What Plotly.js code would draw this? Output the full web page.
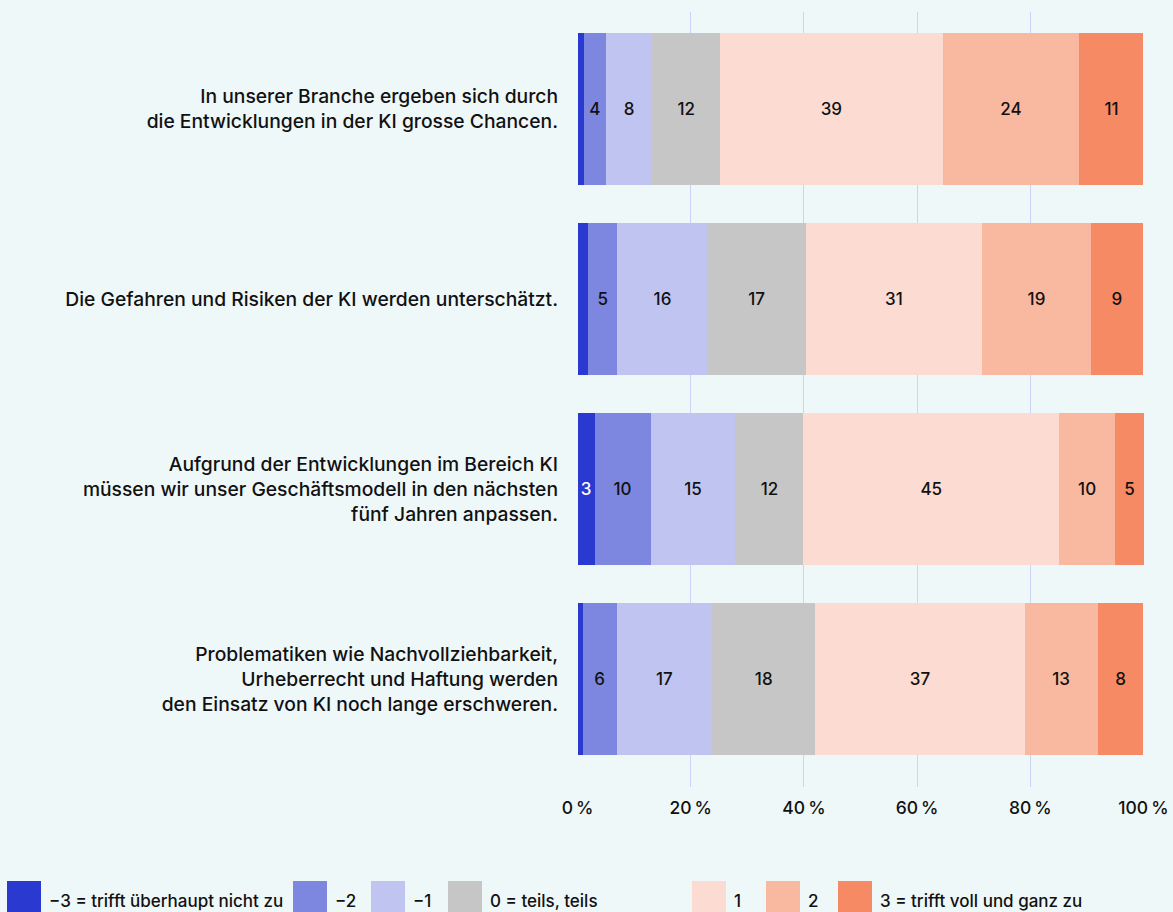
<!DOCTYPE html>
<html>
<head>
<meta charset="utf-8">
<script src="https://cdn.plot.ly/plotly-3.0.1.min.js"></script>
<style>
html,body{margin:0;padding:0;background:#eff8f9;}
#chart{width:1173px;height:912px;}
</style>
</head>
<body>
<div id="chart"></div>
<script>
// ---- data ----
const categories = [
  "In unserer Branche ergeben sich durch<br>die Entwicklungen in der KI grosse Chancen.",
  "Die Gefahren und Risiken der KI werden unterschätzt.",
  "Aufgrund der Entwicklungen im Bereich KI<br>müssen wir unser Geschäftsmodell in den nächsten<br>fünf Jahren anpassen.",
  "Problematiken wie Nachvollziehbarkeit,<br>Urheberrecht und Haftung werden<br>den Einsatz von KI noch lange erschweren."
];
const seriesNames = ["−3 = trifft überhaupt nicht zu", "−2", "−1", "0 = teils, teils", "1", "2", "3 = trifft voll und ganz zu"];
const valMinus3 = [1.1, 1.9, 3.0, 0.9];
const valMinus2 = [3.9, 5.1, 9.9, 6.0];
const valMinus1 = [8.2, 16.0, 15.0, 16.9];
const valZero   = [12.0, 17.3, 12.0, 18.2];
const valPlus1  = [39.3, 31.2, 45.2, 37.0];
const valPlus2  = [24.2, 19.2, 9.9, 12.9];
const valPlus3  = [11.3, 9.2, 5.1, 8.1];
const lblMinus3 = ["", "", "3", ""];
const lblMinus2 = ["4", "5", "10", "6"];
const lblMinus1 = ["8", "16", "15", "17"];
const lblZero   = ["12", "17", "12", "18"];
const lblPlus1  = ["39", "31", "45", "37"];
const lblPlus2  = ["24", "19", "10", "13"];
const lblPlus3  = ["11", "9", "5", "8"];
const xTicks = [0, 20, 40, 60, 80, 100];

// ---- styles ----
const colors = ["#2a3ad0", "#7d87e0", "#c0c4f0", "#c6c6c6", "#fcdcd2", "#f9b8a0", "#f68a64"];
const textColors = ["#ffffff", "#111111", "#111111", "#111111", "#111111", "#111111", "#111111"];
const FONT = "Inter, 'Noto Sans', sans-serif";

const values = [valMinus3, valMinus2, valMinus1, valZero, valPlus1, valPlus2, valPlus3];
const labels = [lblMinus3, lblMinus2, lblMinus1, lblZero, lblPlus1, lblPlus2, lblPlus3];

const traces = seriesNames.map((name, i) => ({
  type: "bar",
  orientation: "h",
  name: name,
  y: categories,
  x: values[i],
  text: labels[i],
  textposition: "inside",
  insidetextanchor: "middle",
  textangle: 0,
  constraintext: "none",
  textfont: {family: FONT, size: 17, color: textColors[i], weight: 500},
  marker: {color: colors[i], line: {width: 0}},
  width: 0.8,
  hoverinfo: "skip",
  showlegend: false
}));

// ---- layout geometry (pixels) ----
const W = 1173, H = 912;
const plotL = 577, plotR = 1144, plotT = 12, plotB = 787;
const px2x = px => (px - plotL) / (plotR - plotL);
const py2y = py => (plotB - py) / (plotB - plotT);

const legendX = [7, 293, 371, 448, 692, 766, 838];
const legendSize = 34;
const legendTop = 881;

const shapes = seriesNames.map((n, i) => ({
  type: "rect", xref: "paper", yref: "paper",
  x0: px2x(legendX[i]), x1: px2x(legendX[i] + legendSize),
  y0: py2y(legendTop + legendSize), y1: py2y(legendTop),
  fillcolor: colors[i], line: {width: 0}
}));
const annotations = seriesNames.map((n, i) => ({
  text: n, xref: "paper", yref: "paper",
  x: px2x(legendX[i] + legendSize + 6), y: py2y(901),
  xanchor: "left", yanchor: "middle", showarrow: false,
  font: {family: FONT, size: 17, color: "#111111", weight: 500}
}));

const layout = {
  width: W, height: H,
  paper_bgcolor: "#eff8f9",
  plot_bgcolor: "#eff8f9",
  barmode: "stack",
  margin: {l: plotL, r: W - plotR, t: plotT, b: H - plotB, pad: 0},
  font: {family: FONT, size: 17, color: "#111111"},
  xaxis: {
    range: [-0.1, 100.1],
    tickvals: xTicks,
    ticktext: xTicks.map(v => v + "\u2009%"),
    showgrid: true, gridcolor: "#cdd3f6", gridwidth: 1,
    zeroline: false, showline: false, ticks: "",
    tickfont: {family: FONT, size: 17.5, color: "#111111", weight: 500},
    ticklabelstandoff: 8,
    fixedrange: true
  },
  yaxis: {
    type: "category",
    categoryorder: "array", categoryarray: categories,
    range: [3.568, -0.5105],
    showgrid: false, zeroline: false, showline: false, ticks: "",
    tickfont: {family: FONT, size: 19.3, color: "#111111", weight: 500},
    ticklabelstandoff: 18,
    fixedrange: true
  },
  shapes: shapes,
  annotations: annotations,
  showlegend: false
};

Plotly.newPlot("chart", traces, layout, {displayModeBar: false, staticPlot: true});
</script>
</body>
</html>
